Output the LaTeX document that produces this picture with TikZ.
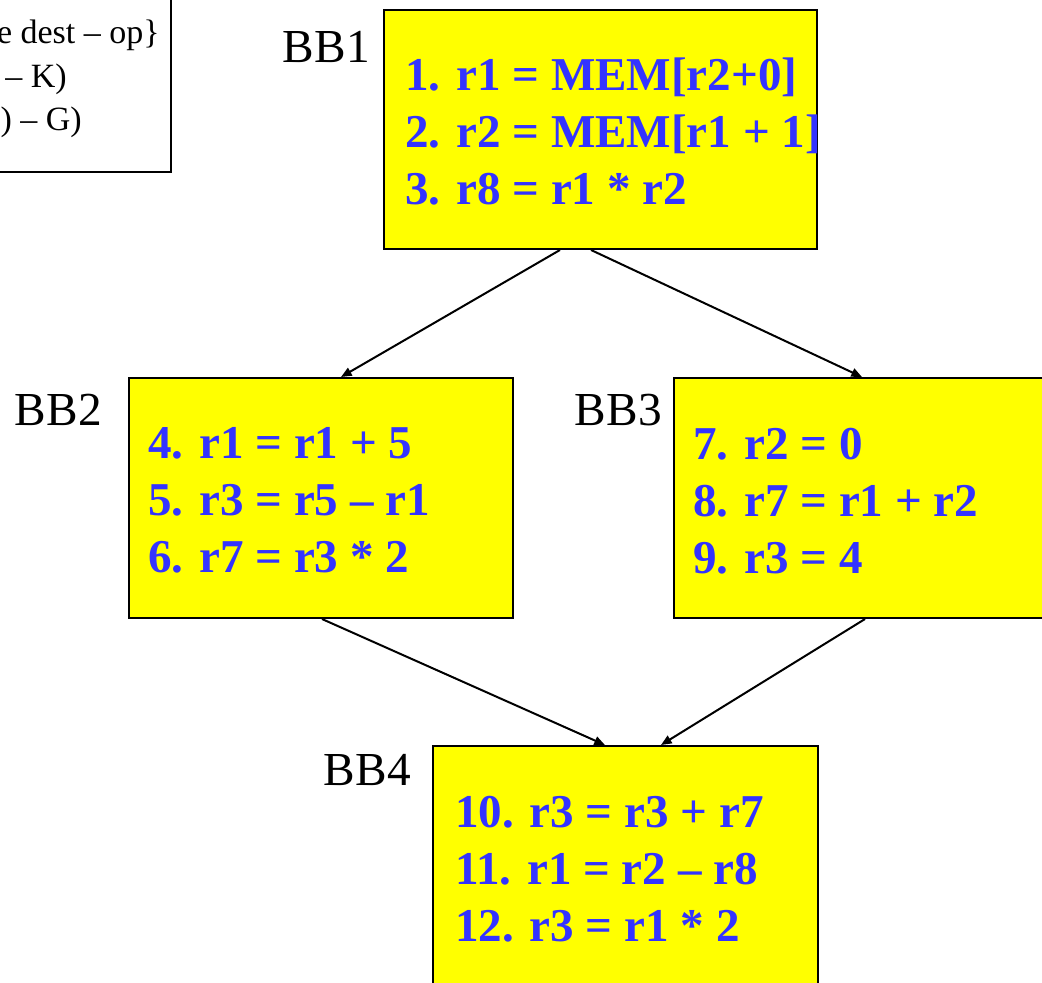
\documentclass[tikz,border=0pt]{standalone}
\usepackage{fontspec}
\setmainfont{Liberation Serif}
\usetikzlibrary{arrows.meta}
\definecolor{codeblue}{RGB}{51,51,255}
\definecolor{blockyellow}{RGB}{255,255,0}

\tikzset{
  block/.style={draw=black, line width=1.5pt, fill=blockyellow, anchor=north west, inner sep=0pt},
  code/.style={anchor=base west, align=left, inner sep=0pt, text=codeblue,
    font=\fontsize{35.3}{42.75}\selectfont\bfseries},
  bbname/.style={anchor=base east, inner sep=0pt, font=\fontsize{35.5}{40}\selectfont},
  legendtext/.style={anchor=base east, inner sep=0pt, font=\fontsize{25.5}{32}\selectfont},
  flow/.style={line width=1.5pt, -{Triangle[length=8pt,width=6.5pt]}}
}

\begin{document}
\begin{tikzpicture}[x=0.75pt,y=-0.75pt]

  \useasboundingbox (0,0) rectangle (1042,982);

  % legend box, cut by the page edge
  \node [draw=black, line width=1.3pt, anchor=south east, minimum width=200pt, minimum height=160pt] (legend) at (172,173) {};
  \node [legendtext] (leg1) at (160,43) {e dest -- op\}};
  \node [legendtext] (leg2) at (67,87) {-- K)};
  \node [legendtext] (leg3) at (82,130) {) -- G)};

  % basic blocks
  \node [block, minimum width=324.75pt, minimum height=179.25pt] (bb1) at (383,9) {};
  \node [block, minimum width=288pt, minimum height=180pt] (bb2) at (128,377) {};
  \node [block, minimum width=283.5pt, minimum height=180pt] (bb3) at (673,377) {};
  \node [block, minimum width=288.75pt, minimum height=180pt] (bb4) at (432,745) {};

  % base of a code node is its last line
  \node [code] (code1) at ([shift={(22,195)}]bb1.north west)
    {1. r1 = MEM[r2+0]\\2. r2 = MEM[r1 + 1]\\3. r8 = r1 * r2};
  \node [code] (code2) at ([shift={(20,195)}]bb2.north west)
    {4. r1 = r1 + 5\\5. r3 = r5 -- r1\\6. r7 = r3 * 2};
  \node [code] (code3) at ([shift={(20,196)}]bb3.north west)
    {7. r2 = 0\\8. r7 = r1 + r2\\9. r3 = 4};
  \node [code] (code4) at ([shift={(23,196)}]bb4.north west)
    {10. r3 = r3 + r7\\11. r1 = r2 -- r8\\12. r3 = r1 * 2};

  \node [bbname] (name1) at ([shift={(-13,53)}]bb1.north west) {BB1};
  \node [bbname] (name2) at ([shift={(-26,48)}]bb2.north west) {BB2};
  \node [bbname] (name3) at ([shift={(-11,48)}]bb3.north west) {BB3};
  \node [bbname] (name4) at ([shift={(-21,40)}]bb4.north west) {BB4};

  % control flow
  \draw [flow] ([xshift=-30.4pt]bb1.south) -- ([xshift=15pt]bb2.north);
  \draw [flow] ([xshift=-7.1pt]bb1.south) -- ([xshift=-0.75pt]bb3.north);
  \draw [flow] ([xshift=0.75pt]bb2.south) -- ([xshift=-15.4pt]bb4.north);
  \draw [flow] ([xshift=1.5pt]bb3.south) -- ([xshift=26.6pt]bb4.north);

\end{tikzpicture}
\end{document}
